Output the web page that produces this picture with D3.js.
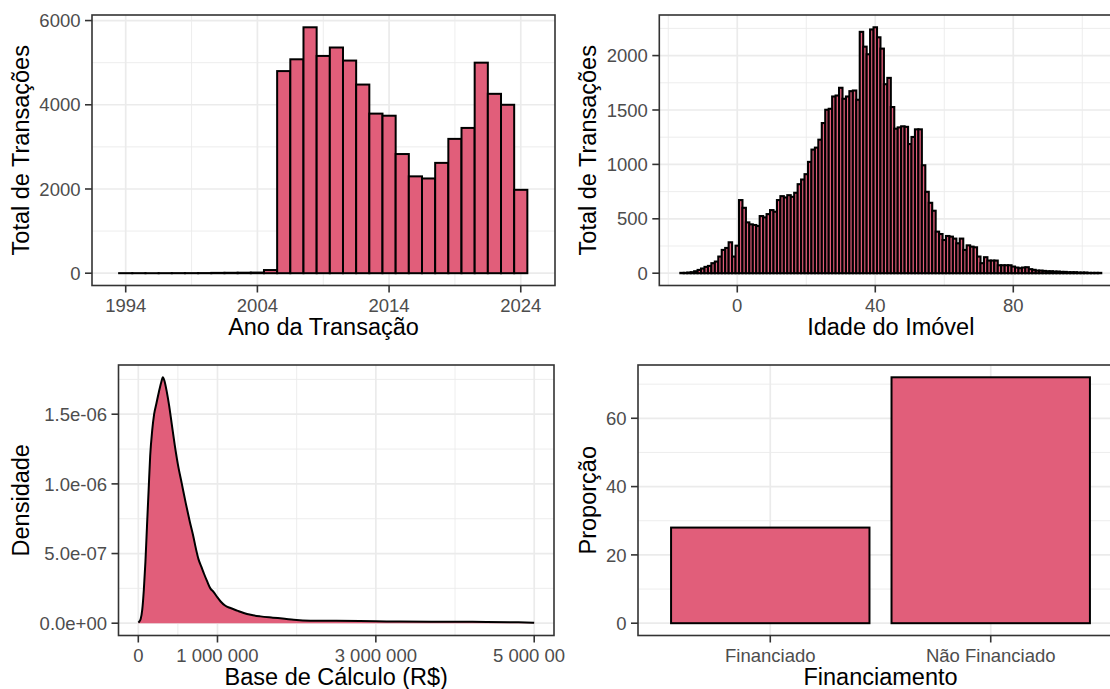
<!DOCTYPE html>
<html><head><meta charset="utf-8">
<script src="https://cdn.jsdelivr.net/npm/d3@7"></script>
<style>
body{margin:0;background:#fff}
svg{display:block}
text{font-family:"Liberation Sans",Arial,Helvetica,sans-serif}
</style>
</head><body>
<svg id="c" width="1110" height="689"></svg>
<script>
// ---------- DATA ----------
const anos = [1994,1995,1996,1997,1998,1999,2000,2001,2002,2003,2004,2005,2006,2007,2008,2009,2010,2011,2012,2013,2014,2015,2016,2017,2018,2019,2020,2021,2022,2023,2024];
const transacoesPorAno = [1,1,0,1,2,2,3,8,10,12,15,75,4800,5080,5840,5160,5360,5050,4480,3790,3740,2830,2300,2250,2620,3190,3450,5000,4260,4000,1980];
const ticksAno = [1994,2004,2014,2024];

const idades = [-16,-15,-14,-13,-12,-11,-10,-9,-8,-7,-6,-5,-4,-3,-2,-1,0,1,2,3,4,5,6,7,8,9,10,11,12,13,14,15,16,17,18,19,20,21,22,23,24,25,26,27,28,29,30,31,32,33,34,35,36,37,38,39,40,41,42,43,44,45,46,47,48,49,50,51,52,53,54,55,56,57,58,59,60,61,62,63,64,65,66,67,68,69,70,71,72,73,74,75,76,77,78,79,80,81,82,83,84,85,86,87,88,89,90,91,92,93,94,95,96,97,98,99,100,101,102,103,104,105];
const transacoesPorIdade = [3,3,6,9,18,30,43,58,67,92,107,153,214,232,284,153,253,672,601,467,449,443,434,525,513,543,580,565,672,708,696,717,702,739,818,861,910,1023,1136,1154,1227,1380,1502,1511,1624,1633,1704,1603,1624,1673,1679,1594,2218,2082,2012,2240,2260,2168,2064,1737,1795,1527,1328,1340,1350,1345,1187,1252,1322,1322,992,748,647,574,382,360,305,342,336,318,275,318,214,256,244,238,153,92,147,116,116,116,73,73,73,73,61,52,46,52,55,37,31,24,24,21,18,18,15,15,12,12,9,9,9,6,6,6,3,3,3,3];
const ticksIdade = [0,40,80];

const baseCalculo = [0,10000,30000,50000,70000,90000,110000,130000,150000,175000,200000,230000,260000,290000,310000,330000,360000,390000,420000,460000,500000,550000,600000,650000,700000,720000,760000,800000,830000,870000,910000,950000,1000000,1040000,1100000,1164000,1250000,1332000,1420000,1542000,1700000,1850000,1962000,2173000,2500000,2800000,3000000,3300000,3700000,4000000,4400000,4800000,5000000];
const densidade = [0.005e-6,0.010e-6,0.030e-6,0.097e-6,0.240e-6,0.440e-6,0.700e-6,0.950e-6,1.200e-6,1.380e-6,1.500e-6,1.580e-6,1.660e-6,1.730e-6,1.765e-6,1.740e-6,1.660e-6,1.560e-6,1.440e-6,1.280e-6,1.140e-6,1.000e-6,0.860e-6,0.730e-6,0.610e-6,0.555e-6,0.460e-6,0.400e-6,0.355e-6,0.300e-6,0.250e-6,0.225e-6,0.185e-6,0.156e-6,0.125e-6,0.109e-6,0.090e-6,0.073e-6,0.060e-6,0.049e-6,0.040e-6,0.032e-6,0.025e-6,0.018e-6,0.017e-6,0.015e-6,0.014e-6,0.012e-6,0.011e-6,0.010e-6,0.009e-6,0.006e-6,0.003e-6];
const ticksBase = [0,1000000,3000000,5000000];
const ticksDens = [0,0.5e-6,1.0e-6,1.5e-6];
const labelsDens = ["0.0e+00","5.0e-07","1.0e-06","1.5e-06"];

const categoriasFin = ["Financiado","Não Financiado"];
const proporcaoFin = [28,72];
const ticksProp = [0,20,40,60];

// ---------- STYLE ----------
const FILL = "#E15E7A";
const GRID = "#EBEBEB";
const TICKFS = 18.5, TITLEFS = 23.5;
const svg = d3.select("#c");

function expand(lo, hi){ const p=(hi-lo)*0.05; return [lo-p, hi+p]; }

function panel(o){
  const g = svg.append("g");
  const {L,R,T,B} = o;
  g.append("rect").attr("x",L).attr("y",T).attr("width",R-L).attr("height",B-T).attr("fill","#fff");
  (o.xMinor||[]).forEach(v=>g.append("line").attr("x1",o.x(v)).attr("x2",o.x(v)).attr("y1",T).attr("y2",B).attr("stroke",GRID).attr("stroke-width",0.9));
  (o.yMinor||[]).forEach(v=>g.append("line").attr("y1",o.y(v)).attr("y2",o.y(v)).attr("x1",L).attr("x2",R).attr("stroke",GRID).attr("stroke-width",0.9));
  o.xMajorPos.forEach(p=>g.append("line").attr("x1",p).attr("x2",p).attr("y1",T).attr("y2",B).attr("stroke",GRID).attr("stroke-width",1.7));
  o.yMajor.forEach(v=>g.append("line").attr("y1",o.y(v)).attr("y2",o.y(v)).attr("x1",L).attr("x2",R).attr("stroke",GRID).attr("stroke-width",1.7));
  const marks = svg.append("g");
  return {g, marks, finish: function(){
    const a = svg.append("g");
    a.append("rect").attr("x",L).attr("y",T).attr("width",R-L).attr("height",B-T).attr("fill","none").attr("stroke","#333333").attr("stroke-width",1.6);
    o.yMajor.forEach((v,i)=>{
      const yy=o.y(v);
      a.append("line").attr("x1",L-7).attr("x2",L).attr("y1",yy).attr("y2",yy).attr("stroke","#333333").attr("stroke-width",1.6);
      a.append("text").attr("x",L-11.5).attr("y",yy).attr("dy","0.36em").attr("text-anchor","end").attr("fill","#4D4D4D").attr("font-size",TICKFS).text(o.yLabels[i]);
    });
    o.xMajorPos.forEach((p,i)=>{
      a.append("line").attr("x1",p).attr("x2",p).attr("y1",B).attr("y2",B+7).attr("stroke","#333333").attr("stroke-width",1.6);
      a.append("text").attr("x",p).attr("y",B+26).attr("text-anchor","middle").attr("fill","#4D4D4D").attr("font-size",TICKFS).text(o.xLabels[i]);
    });
    a.append("text").attr("x",(L+R)/2).attr("y",B+49.5).attr("text-anchor","middle").attr("fill","#000").attr("font-size",TITLEFS).text(o.xTitle);
    a.append("text").attr("transform",`translate(${o.yTitleX},${(T+B)/2}) rotate(-90)`).attr("text-anchor","middle").attr("fill","#000").attr("font-size",TITLEFS).text(o.yTitle);
  }};
}

// ---------- Panel 1: Ano ----------
{
  const L=92,R=555,T=15,B=285.5;
  const x = d3.scaleLinear().domain([1991.44,2026.6]).range([L,R]);
  const ymax = d3.max(transacoesPorAno);
  const y = d3.scaleLinear().domain(expand(0,ymax)).range([B,T]);
  const p = panel({L,R,T,B,x,y,xMajorPos:ticksAno.map(x),xLabels:ticksAno.map(String),xMinor:[1999,2009,2019],
    yMajor:[0,2000,4000,6000],yLabels:["0","2000","4000","6000"],yMinor:[1000,3000,5000],
    xTitle:"Ano da Transação",yTitle:"Total de Transações",yTitleX:28.5});
  p.marks.selectAll("rect").data(anos).join("rect")
    .attr("x",d=>x(d-0.5)).attr("width",d=>x(d+0.5)-x(d-0.5))
    .attr("y",(d,i)=>y(transacoesPorAno[i])).attr("height",(d,i)=>Math.max(0.01,y(0)-y(transacoesPorAno[i])))
    .attr("fill",FILL).attr("stroke","#000").attr("stroke-width",2);
  p.finish();
}

// ---------- Panel 2: Idade ----------
{
  const L=659.3,R=1122.3,T=15,B=285.5;
  const x = d3.scaleLinear().domain(expand(d3.min(idades)-0.5,d3.max(idades)+0.5)).range([L,R]);
  const ymax = d3.max(transacoesPorIdade);
  const y = d3.scaleLinear().domain(expand(0,ymax)).range([B,T]);
  const p = panel({L,R,T,B,x,y,xMajorPos:ticksIdade.map(x),xLabels:ticksIdade.map(String),xMinor:[-20,20,60,100],
    yMajor:[0,500,1000,1500,2000],yLabels:["0","500","1000","1500","2000"],yMinor:[250,750,1250,1750,2250],
    xTitle:"Idade do Imóvel",yTitle:"Total de Transações",yTitleX:595.5});
  p.marks.selectAll("rect").data(idades).join("rect")
    .attr("x",d=>x(d-0.5)).attr("width",d=>x(d+0.5)-x(d-0.5))
    .attr("y",(d,i)=>y(transacoesPorIdade[i])).attr("height",(d,i)=>Math.max(0.01,y(0)-y(transacoesPorIdade[i])))
    .attr("fill",FILL).attr("stroke","#000").attr("stroke-width",2.1);
  p.finish();
}

// ---------- Panel 3: Densidade ----------
{
  const L=118.5,R=554,T=365,B=635.5;
  const x = d3.scaleLinear().domain(expand(0,5000000)).range([L,R]);
  const ymax = d3.max(densidade);
  const y = d3.scaleLinear().domain(expand(0,ymax)).range([B,T]);
  const fmt = v => d3.format(",")(v).replace(/,/g," ");
  const p = panel({L,R,T,B,x,y,xMajorPos:ticksBase.map(x),xLabels:ticksBase.map(fmt),xMinor:[500000,2000000,4000000],
    yMajor:ticksDens,yLabels:labelsDens,yMinor:[0.25e-6,0.75e-6,1.25e-6,1.75e-6],
    xTitle:"Base de Cálculo (R$)",yTitle:"Densidade",yTitleX:28.5});
  const pts = baseCalculo.map((v,i)=>[v,densidade[i]]);
  const area = d3.area().x(d=>x(d[0])).y0(y(0)).y1(d=>y(d[1])).curve(d3.curveMonotoneX);
  const line = d3.line().x(d=>x(d[0])).y(d=>y(d[1])).curve(d3.curveMonotoneX);
  p.marks.append("path").attr("d",area(pts)).attr("fill",FILL);
  p.marks.append("path").attr("d",line(pts)).attr("fill","none").attr("stroke","#000").attr("stroke-width",2);
  p.finish();
}

// background of the right-hand cell of the bottom row (covers overflow of the left cell)
svg.append("rect").attr("x",565).attr("y",345).attr("width",545).attr("height",344).attr("fill","#fff");

// ---------- Panel 4: Financiamento ----------
{
  const L=638,R=1123,T=365,B=635.5;
  const x = d3.scaleBand().domain(categoriasFin).range([L,R]).paddingInner(0.1).paddingOuter(0.15);
  const ymax = d3.max(proporcaoFin);
  const y = d3.scaleLinear().domain(expand(0,ymax)).range([B,T]);
  const p = panel({L,R,T,B,x,y,xMajorPos:categoriasFin.map(c=>x(c)+x.bandwidth()/2),xLabels:categoriasFin,xMinor:[],
    yMajor:ticksProp,yLabels:ticksProp.map(String),yMinor:[10,30,50,70],
    xTitle:"Financiamento",yTitle:"Proporção",yTitleX:595.5});
  p.marks.selectAll("rect").data(categoriasFin).join("rect")
    .attr("x",d=>x(d)).attr("width",x.bandwidth())
    .attr("y",(d,i)=>y(proporcaoFin[i])).attr("height",(d,i)=>y(0)-y(proporcaoFin[i]))
    .attr("fill",FILL).attr("stroke","#000").attr("stroke-width",2);
  p.finish();
}
</script>
</body></html>
